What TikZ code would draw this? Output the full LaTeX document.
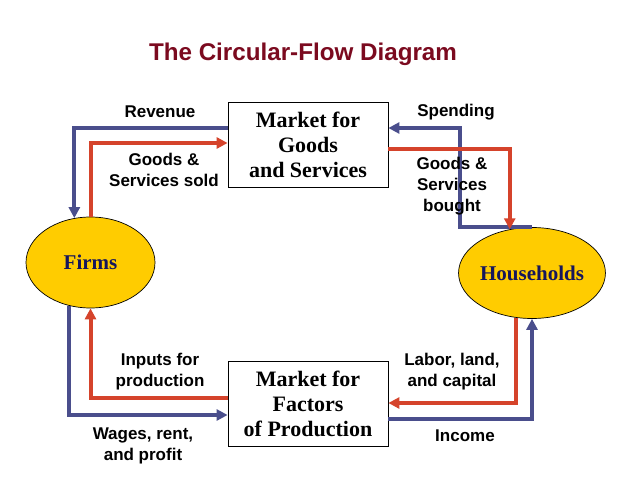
\documentclass[tikz,border=0pt]{standalone}
\usepackage{fontspec}
\setmainfont{Liberation Serif}
\setsansfont{Liberation Sans}
\usetikzlibrary{arrows.meta,shapes.geometric}
\definecolor{titlered}{HTML}{7B0A1F}
\definecolor{moneyblue}{HTML}{4A4E8C}
\definecolor{goodsred}{HTML}{D5432B}
\definecolor{sunyellow}{HTML}{FFCC00}
\definecolor{sectornavy}{HTML}{16165C}
\begin{document}
\begin{tikzpicture}[x=1pt,y=-1pt,
  market/.style={draw,line width=0.8pt,minimum width=160pt,minimum height=85pt,align=center,inner sep=2pt,font=\fontsize{22}{25}\selectfont\bfseries},
  sector/.style={ellipse,draw,line width=0.7pt,fill=sunyellow,minimum width=129pt,minimum height=91pt,inner sep=0pt,text=sectornavy,font=\fontsize{21}{25}\selectfont\bfseries},
  flowlbl/.style={align=center,inner sep=0pt,font=\sffamily\bfseries\fontsize{17}{21}\selectfont},
  money/.style={draw=moneyblue,line width=4pt,-{Triangle[length=11pt,width=11pt]}},
  goods/.style={draw=goodsred,line width=4pt,-{Triangle[length=11pt,width=11pt]}}]
  \useasboundingbox (0,0) rectangle (638,479);
  \node[font=\sffamily\bfseries\fontsize{24.2}{28}\selectfont,text=titlered] (title) at (303,54){The Circular-Flow Diagram};
  \node[market] (gs) at (308,144.5){Market for\\Goods\\and Services};
  \node[market] (fp) at (308,404){Market for\\Factors\\of Production};
  \node[sector] (firms) at (90.5,262.5){Firms};
  \node[sector] (hh) at (532,273){Households};
  % flows of money
  \draw[money] ([yshift=17pt]gs.west) -| (firms.110);
  \draw[money] (hh.north) -| ([xshift=72pt,yshift=16.5pt]gs.east) -- ([yshift=16.5pt]gs.east);
  \draw[money] (firms.243) |- ([yshift=-11pt]fp.west);
  \draw[money] ([yshift=-15pt]fp.east) -| (hh.south);
  % flows of goods and inputs
  \draw[goods] (firms.north) |- ([yshift=1.5pt]gs.west);
  \draw[goods] ([yshift=-4.5pt]gs.east) -| (hh.117);
  \draw[goods] ([yshift=6pt]fp.west) -| (firms.south);
  \draw[goods] (hh.250) |- ([yshift=1pt]fp.east);
  \node[flowlbl] (revenue) at (160,112){Revenue};
  \node[flowlbl] (gssold) at (164,169.5){Goods \&\\Services sold};
  \node[flowlbl] (spending) at (456,112){Spending};
  \node[flowlbl] (gsbought) at (452,186){Goods \&\\Services\\bought};
  \node[flowlbl] (inputs) at (160,372){Inputs for\\production};
  \node[flowlbl] (wages) at (143,445.5){Wages, rent,\\and profit};
  \node[flowlbl] (labor) at (452,371.5){Labor, land,\\and capital};
  \node[flowlbl] (income) at (465,436){Income};
\end{tikzpicture}
\end{document}
